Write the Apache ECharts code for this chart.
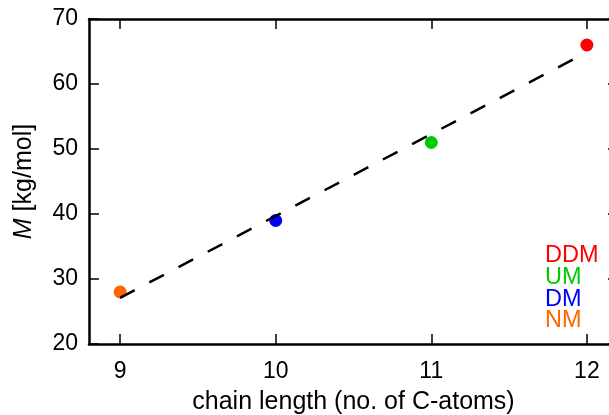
<!DOCTYPE html>
<html>
<head>
<meta charset="utf-8">
<script src="https://cdn.jsdelivr.net/npm/echarts@6/dist/echarts.min.js"></script>
<style>
  html, body { margin: 0; padding: 0; background: #ffffff; overflow: hidden; }
  #chart { width: 609px; height: 415px; }
</style>
</head>
<body>
<div id="chart"></div>
<script>
// Surfactant series: alkyl chain length vs. micelle molar mass
const names = ['NM', 'DM', 'UM', 'DDM'];
const chainLength = [9, 10, 11, 12];
const molarMass = [28, 39, 51, 66];
const colors = ['#ff6600', '#0000ff', '#00cc00', '#ff0000'];

// Linear trend endpoints (x, M)
const trendX = [9, 12];
const trendY = [27.1, 64.9];

const xTickValues = [9, 10, 11, 12];
const yMin = 20, yMax = 70, yStep = 10;
const xMin = 8.8, xMax = 12.2;

const FONT = '"Liberation Sans", Arial, sans-serif';

const chart = echarts.init(document.getElementById('chart'), null, { renderer: 'canvas' });

const axisLine = { show: true, lineStyle: { color: '#000', width: 2.5 } };
const tickStyle = { color: '#000', width: 1.5 };

const scatterSeries = names.map((n, i) => ({
  name: n,
  type: 'scatter',
  xAxisIndex: 0,
  yAxisIndex: 0,
  symbol: 'circle',
  symbolSize: 13,
  itemStyle: { color: colors[i], opacity: 1 },
  z: 2,
  data: [[chainLength[i], molarMass[i]]]
}));

// Legend entries, listed top-to-bottom in reverse series order
const legendRowsY = [256, 278, 300, 321];
const legendText = names.slice().reverse().map((n, k) => ({
  type: 'text',
  left: 545,
  top: legendRowsY[k] - 12,
  style: {
    text: n,
    fill: colors[names.length - 1 - k],
    font: '23.5px ' + FONT
  },
  z: 100
}));

chart.setOption({
  animation: false,
  backgroundColor: '#ffffff',
  // plot frame runs slightly past the right edge of the canvas
  grid: { left: 89, top: 19, width: 529, height: 325, containLabel: false, outerBoundsMode: 'none' },
  xAxis: [
    {
      type: 'value',
      position: 'bottom',
      min: xMin,
      max: xMax,
      axisLine: axisLine,
      axisTick: { show: true, inside: true, length: 10, lineStyle: tickStyle, customValues: xTickValues },
      axisLabel: { show: true, margin: 16, color: '#000', fontSize: 23, fontFamily: FONT, customValues: xTickValues },
      splitLine: { show: false },
      name: 'chain length (no. of C-atoms)',
      nameLocation: 'middle',
      nameGap: 46,
      nameTextStyle: { color: '#000', fontSize: 25, fontFamily: FONT }
    },
    {
      type: 'value',
      position: 'top',
      min: xMin,
      max: xMax,
      axisLine: axisLine,
      axisTick: { show: true, inside: true, length: 10, lineStyle: tickStyle, customValues: xTickValues },
      axisLabel: { show: false },
      splitLine: { show: false }
    }
  ],
  yAxis: [
    {
      type: 'value',
      position: 'left',
      min: yMin,
      max: yMax,
      interval: yStep,
      axisLine: axisLine,
      axisTick: { show: true, inside: true, length: 10, lineStyle: tickStyle },
      axisLabel: { show: true, margin: 11, color: '#000', fontSize: 23, fontFamily: FONT },
      splitLine: { show: false },
      name: '{i|M} [kg/mol]',
      nameLocation: 'middle',
      nameGap: 52,
      nameRotate: 90,
      nameTextStyle: {
        color: '#000', fontSize: 25, fontFamily: FONT,
        rich: { i: { fontStyle: 'italic', fontSize: 25, fontFamily: FONT, color: '#000' } }
      }
    },
    {
      type: 'value',
      position: 'right',
      min: yMin,
      max: yMax,
      interval: yStep,
      axisLine: axisLine,
      axisTick: { show: true, inside: true, length: 10, lineStyle: tickStyle },
      axisLabel: { show: false },
      splitLine: { show: false }
    }
  ],
  graphic: legendText,
  series: scatterSeries.concat([{
    name: 'trend',
    type: 'line',
    xAxisIndex: 0,
    yAxisIndex: 0,
    symbol: 'none',
    silent: true,
    z: 5,
    lineStyle: { color: '#000', width: 2.5, type: [16.5, 16.5], cap: 'butt' },
    data: trendX.map((x, i) => [x, trendY[i]])
  }])
});
</script>
</body>
</html>
